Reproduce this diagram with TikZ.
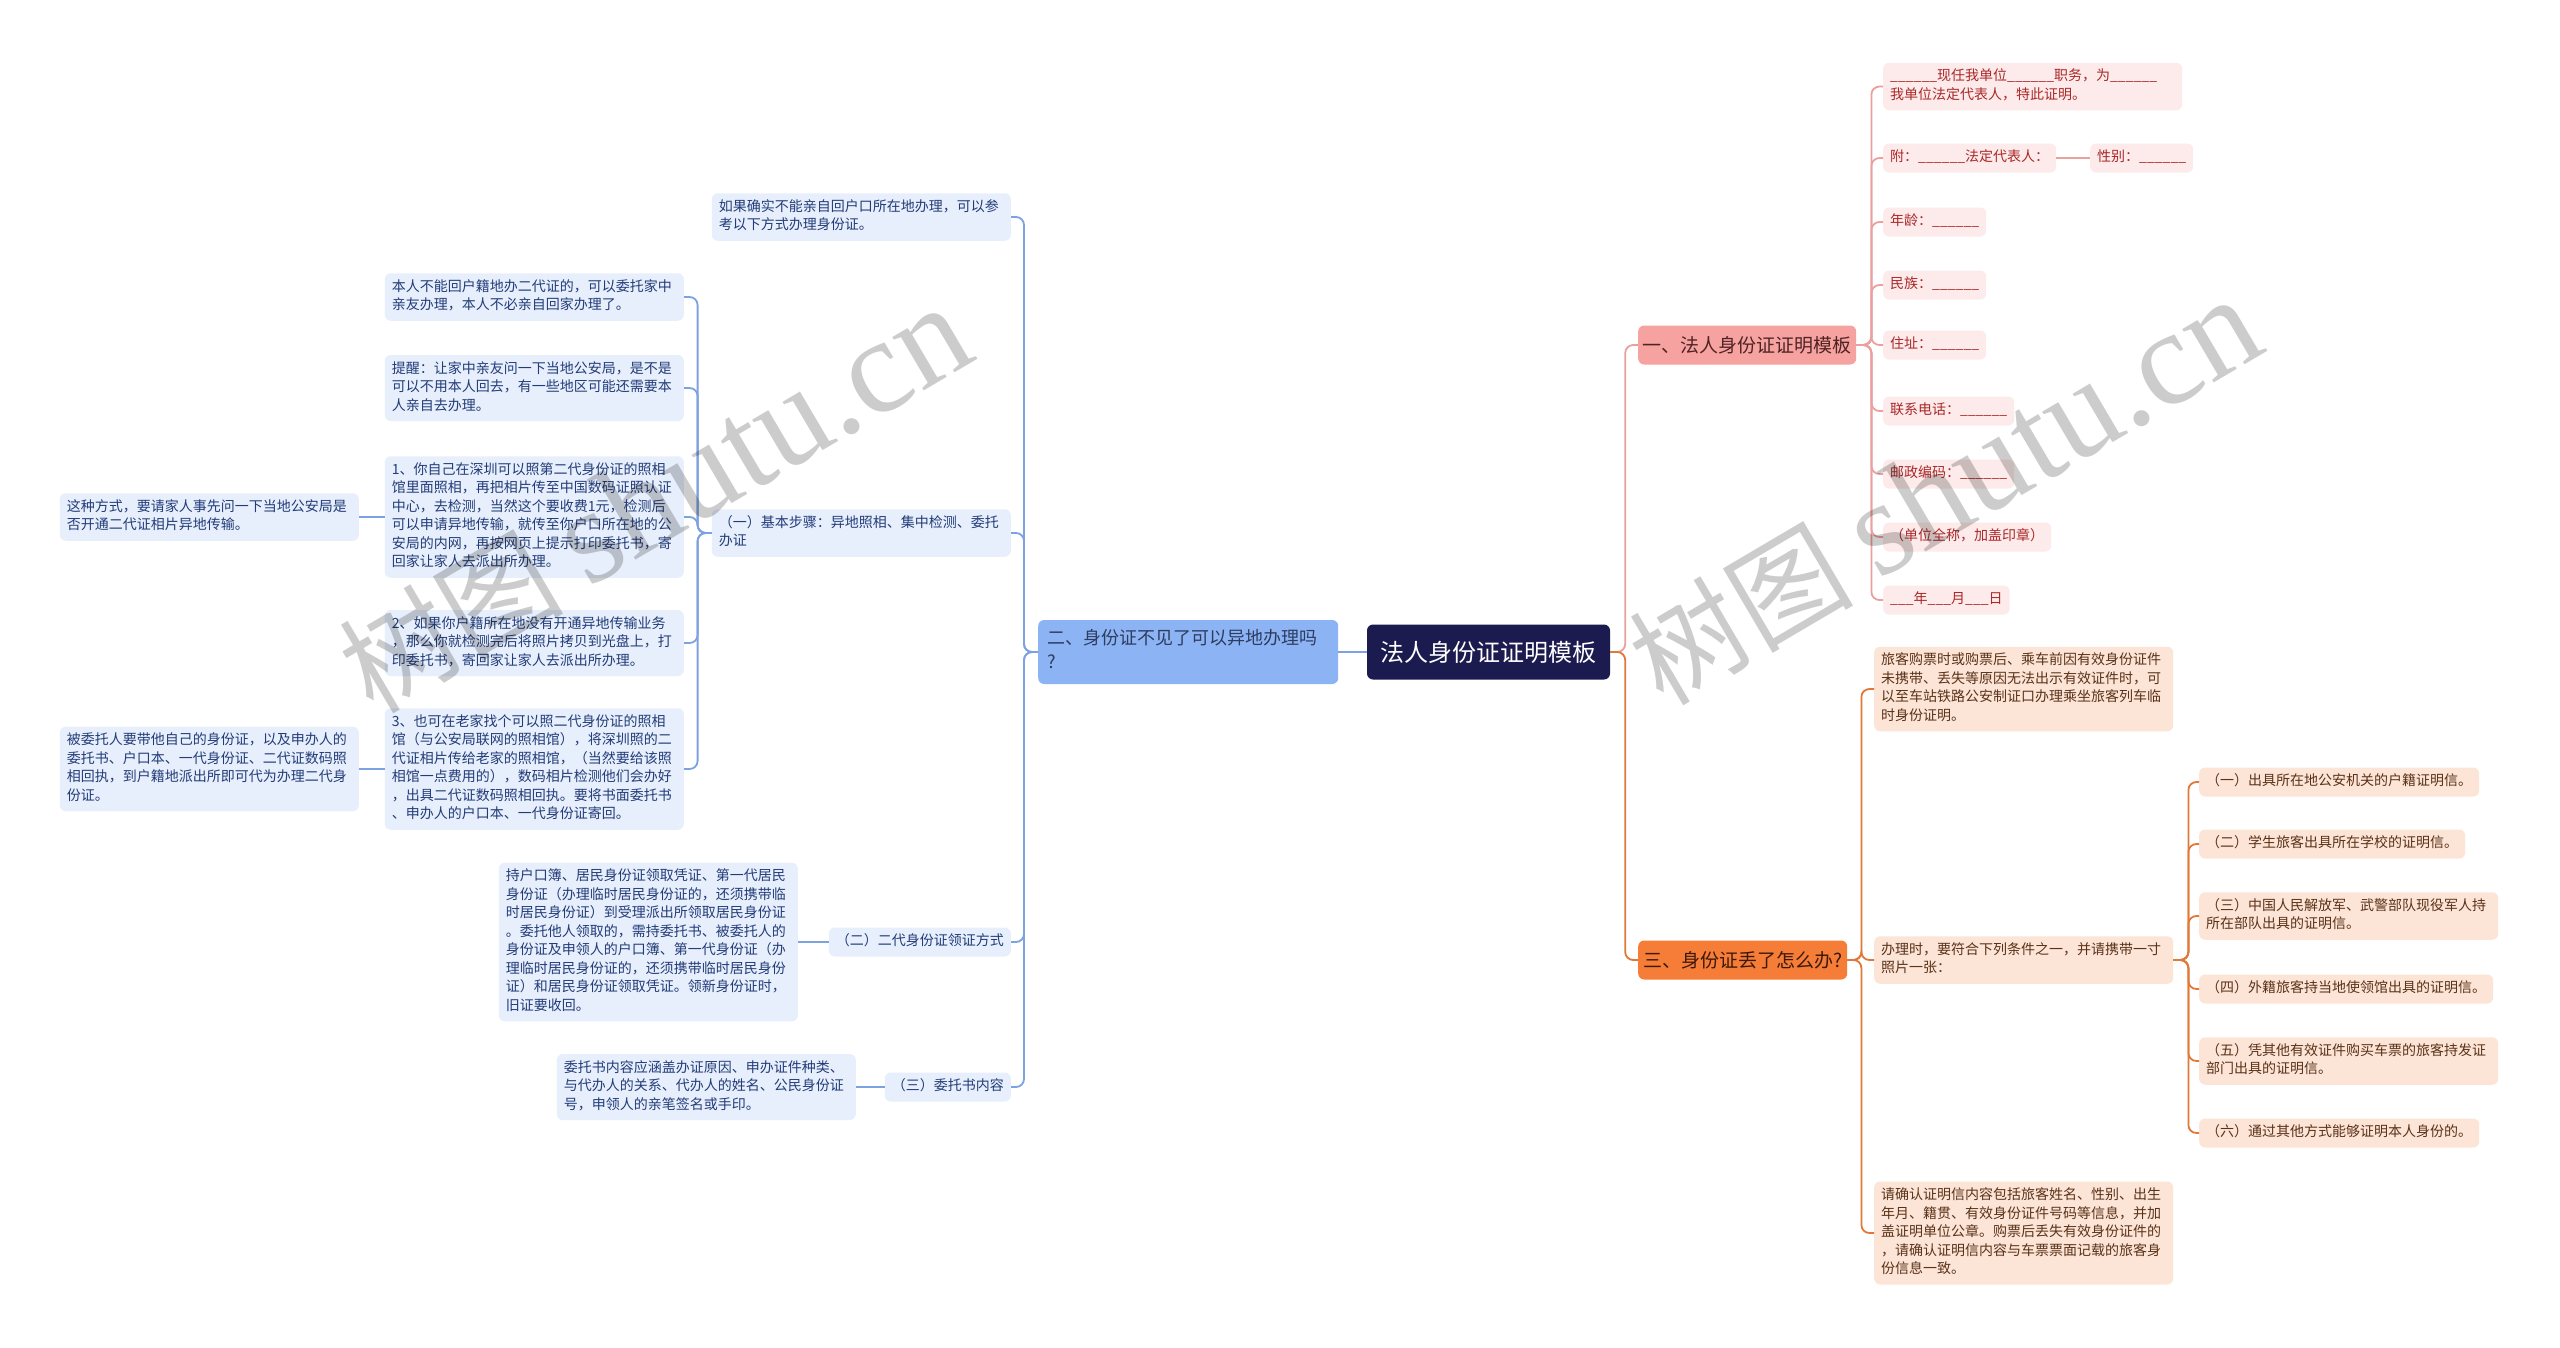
\documentclass[tikz,border=0pt]{standalone}
\usepackage{fontspec}
\setmainfont{Noto Sans CJK SC}
\newfontfamily\wmlatin{Liberation Serif}
\definecolor{cnavy}{RGB}{28,27,80}
\definecolor{cbluebr}{RGB}{140,180,245}
\definecolor{cbluebrtext}{RGB}{45,60,95}
\definecolor{cblueleaf}{RGB}{231,239,252}
\definecolor{cbluetext}{RGB}{35,60,120}
\definecolor{cblueline}{RGB}{125,162,225}
\definecolor{credbr}{RGB}{245,162,160}
\definecolor{credbrtext}{RGB}{80,35,35}
\definecolor{credleaf}{RGB}{253,234,234}
\definecolor{credtext}{RGB}{170,40,40}
\definecolor{credline}{RGB}{235,160,160}
\definecolor{corbr}{RGB}{245,125,55}
\definecolor{corbrtext}{RGB}{60,25,10}
\definecolor{corleaf}{RGB}{252,228,214}
\definecolor{cortext}{RGB}{90,50,25}
\definecolor{corline}{RGB}{225,120,55}
\tikzset{
  base/.style={rounded corners=6pt, inner xsep=7pt, inner ysep=5.25pt,
    font=\fontsize{14}{18.5}\selectfont, align=left,
    execute at begin node=\strut, execute at end node=\strut},
  bleaf/.style={base, fill=cblueleaf, text=cbluetext},
  rleaf/.style={base, fill=credleaf, text=credtext},
  oleaf/.style={base, fill=corleaf, text=cortext},
  wide/.style={text width=285pt},
  rootbox/.style={rounded corners=6pt, fill=cnavy, text=white,
    font=\fontsize{24}{30}\selectfont, minimum width=243pt, minimum height=55pt, inner sep=4pt},
  bbranch/.style={rounded corners=6pt, fill=cbluebr, text=cbluebrtext,
    font=\fontsize{18}{24}\selectfont, align=left, text width=282pt, inner xsep=9pt, inner ysep=8pt,
    execute at begin node=\strut, execute at end node=\strut},
  rbranch/.style={rounded corners=6pt, fill=credbr, text=credbrtext,
    font=\fontsize{19}{24}\selectfont, minimum width=218pt, minimum height=39pt, inner sep=4pt},
  obranch/.style={rounded corners=6pt, fill=corbr, text=corbrtext,
    font=\fontsize{19}{24}\selectfont, minimum width=209pt, minimum height=39pt, inner sep=4pt},
  bline/.style={draw=cblueline, line width=1.8pt, rounded corners=8pt},
  rline/.style={draw=credline, line width=1.8pt, rounded corners=8pt},
  oline/.style={draw=corline, line width=1.8pt, rounded corners=8pt},
  wm/.style={text=black, text opacity=0.2, inner sep=0pt},
}
\begin{document}
\begin{tikzpicture}[x=1pt,y=-1pt]
\useasboundingbox (0,0) rectangle (2560,1347);
\fill[white] (0,0) rectangle (2560,1347);

% root
\node[rootbox] (root) at (1488.5,652) {法人身份证证明模板};

% ---------- left (blue) ----------
\node[bbranch, anchor=west] (b2) at (1038,652) {二、身份证不见了可以异地办理吗\\?};

\node[bleaf, wide, anchor=east] (bq) at (1011,217) {如果确实不能亲自回户口所在地办理，可以参\\考以下方式办理身份证。};
\node[bleaf, wide, anchor=east] (b1) at (1011,533) {（一）基本步骤：异地照相、集中检测、委托\\办证};
\node[bleaf, anchor=east] (bb2) at (1011,942) {（二）二代身份证领证方式};
\node[bleaf, anchor=east] (bb3) at (1011,1087) {（三）委托书内容};

\node[bleaf, wide, anchor=east] (s1) at (684,297) {本人不能回户籍地办二代证的，可以委托家中\\亲友办理，本人不必亲自回家办理了。};
\node[bleaf, wide, anchor=east] (s2) at (684,388) {提醒：让家中亲友问一下当地公安局，是不是\\可以不用本人回去，有一些地区可能还需要本\\人亲自去办理。};
\node[bleaf, wide, anchor=east] (s3) at (684,517) {1、你自己在深圳可以照第二代身份证的照相\\馆里面照相，再把相片传至中国数码证照认证\\中心，去检测，当然这个要收费1元，检测后\\可以申请异地传输，就传至你户口所在地的公\\安局的内网，再按网页上提示打印委托书，寄\\回家让家人去派出所办理。};
\node[bleaf, wide, anchor=east] (s4) at (684,643) {2、如果你户籍所在地没有开通异地传输业务\\，那么你就检测完后将照片拷贝到光盘上，打\\印委托书，寄回家让家人去派出所办理。};
\node[bleaf, wide, anchor=east] (s5) at (684,769) {3、也可在老家找个可以照二代身份证的照相\\馆（与公安局联网的照相馆），将深圳照的二\\代证相片传给老家的照相馆，（当然要给该照\\相馆一点费用的），数码相片检测他们会办好\\，出具二代证数码照相回执。要将书面委托书\\、申办人的户口本、一代身份证寄回。};

\node[bleaf, wide, anchor=east] (t1) at (359,517) {这种方式，要请家人事先问一下当地公安局是\\否开通二代证相片异地传输。};
\node[bleaf, wide, anchor=east] (t2) at (359,769) {被委托人要带他自己的身份证，以及申办人的\\委托书、户口本、一代身份证、二代证数码照\\相回执，到户籍地派出所即可代为办理二代身\\份证。};

\node[bleaf, wide, anchor=east] (p2) at (798,942) {持户口簿、居民身份证领取凭证、第一代居民\\身份证（办理临时居民身份证的，还须携带临\\时居民身份证）到受理派出所领取居民身份证\\。委托他人领取的，需持委托书、被委托人的\\身份证及申领人的户口簿、第一代身份证（办\\理临时居民身份证的，还须携带临时居民身份\\证）和居民身份证领取凭证。领新身份证时，\\旧证要收回。};
\node[bleaf, wide, anchor=east] (p3) at (856,1087) {委托书内容应涵盖办证原因、申办证件种类、\\与代办人的关系、代办人的姓名、公民身份证\\号，申领人的亲笔签名或手印。};

% ---------- right (red / orange) ----------
\node[rbranch, anchor=west] (r1) at (1638,345) {一、法人身份证证明模板};
\node[obranch, anchor=west] (o1) at (1638,960) {三、身份证丢了怎么办?};

\node[rleaf, wide, anchor=west] (rc1) at (1883,86.5) {\_\_\_\_\_\_现任我单位\_\_\_\_\_\_职务，为\_\_\_\_\_\_\\我单位法定代表人，特此证明。};
\node[rleaf, anchor=west] (rc2) at (1883,158) {附：\_\_\_\_\_\_法定代表人：};
\node[rleaf, anchor=west] (rc2b) at (2090,158) {性别：\_\_\_\_\_\_};
\node[rleaf, anchor=west] (rc3) at (1883,222) {年龄：\_\_\_\_\_\_};
\node[rleaf, anchor=west] (rc4) at (1883,285) {民族：\_\_\_\_\_\_};
\node[rleaf, anchor=west] (rc5) at (1883,345) {住址：\_\_\_\_\_\_};
\node[rleaf, anchor=west] (rc6) at (1883,411) {联系电话：\_\_\_\_\_\_};
\node[rleaf, anchor=west] (rc7) at (1883,474) {邮政编码：\_\_\_\_\_\_};
\node[rleaf, anchor=west] (rc8) at (1883,537) {（单位全称，加盖印章）};
\node[rleaf, anchor=west] (rc9) at (1883,600) {\_\_\_年\_\_\_月\_\_\_日};

\node[oleaf, wide, anchor=west] (oa) at (1874,689) {旅客购票时或购票后、乘车前因有效身份证件\\未携带、丢失等原因无法出示有效证件时，可\\以至车站铁路公安制证口办理乘坐旅客列车临\\时身份证明。};
\node[oleaf, wide, anchor=west] (ob) at (1874,960) {办理时，要符合下列条件之一，并请携带一寸\\照片一张：};
\node[oleaf, wide, anchor=west] (oc) at (1874,1233) {请确认证明信内容包括旅客姓名、性别、出生\\年月、籍贯、有效身份证件号码等信息，并加\\盖证明单位公章。购票后丢失有效身份证件的\\，请确认证明信内容与车票票面记载的旅客身\\份信息一致。};

\node[oleaf, anchor=west] (od1) at (2199,782) {（一）出具所在地公安机关的户籍证明信。};
\node[oleaf, anchor=west] (od2) at (2199,844) {（二）学生旅客出具所在学校的证明信。};
\node[oleaf, wide, anchor=west] (od3) at (2199,916) {（三）中国人民解放军、武警部队现役军人持\\所在部队出具的证明信。};
\node[oleaf, anchor=west] (od4) at (2199,989) {（四）外籍旅客持当地使领馆出具的证明信。};
\node[oleaf, wide, anchor=west] (od5) at (2199,1061) {（五）凭其他有效证件购买车票的旅客持发证\\部门出具的证明信。};
\node[oleaf, anchor=west] (od6) at (2199,1133) {（六）通过其他方式能够证明本人身份的。};

% ---------- connectors ----------
\draw[bline] (root.west) -- (b2.east);
\foreach \c in {bq,b1,bb2,bb3}
  \draw[bline] (b2.west) -- ++(-14,0) |- (\c.east);
\foreach \c in {s1,s2,s3,s4,s5}
  \draw[bline] (b1.west) -- ++(-14,0) |- (\c.east);
\draw[bline] (s3.west) -- (t1.east);
\draw[bline] (s5.west) -- (t2.east);
\draw[bline] (bb2.west) -- (p2.east);
\draw[bline] (bb3.west) -- (p3.east);

\draw[rline] (root.east) -- ++(15,0) |- (r1.west);
\draw[oline] (root.east) -- ++(15,0) |- (o1.west);
\foreach \c in {rc1,rc2,rc3,rc4,rc5,rc6,rc7,rc8,rc9}
  \draw[rline] (r1.east) -- ++(15,0) |- (\c.west);
\draw[rline] (rc2.east) -- (rc2b.west);
\foreach \c in {oa,ob,oc}
  \draw[oline] (o1.east) -- ++(14,0) |- (\c.west);
\foreach \c in {od1,od2,od3,od4,od5,od6}
  \draw[oline] (ob.east) -- ++(15,0) |- (\c.west);

% ---------- watermark ----------
\node[wm, rotate=30.5] (wm1) at (655,500) {\fontsize{112}{112}\selectfont 树图 {\wmlatin\fontsize{135}{135}\selectfont shutu.cn}};
\node[wm, rotate=30.5] (wm2) at (1945,492) {\fontsize{112}{112}\selectfont 树图 {\wmlatin\fontsize{135}{135}\selectfont shutu.cn}};
\end{tikzpicture}
\end{document}
